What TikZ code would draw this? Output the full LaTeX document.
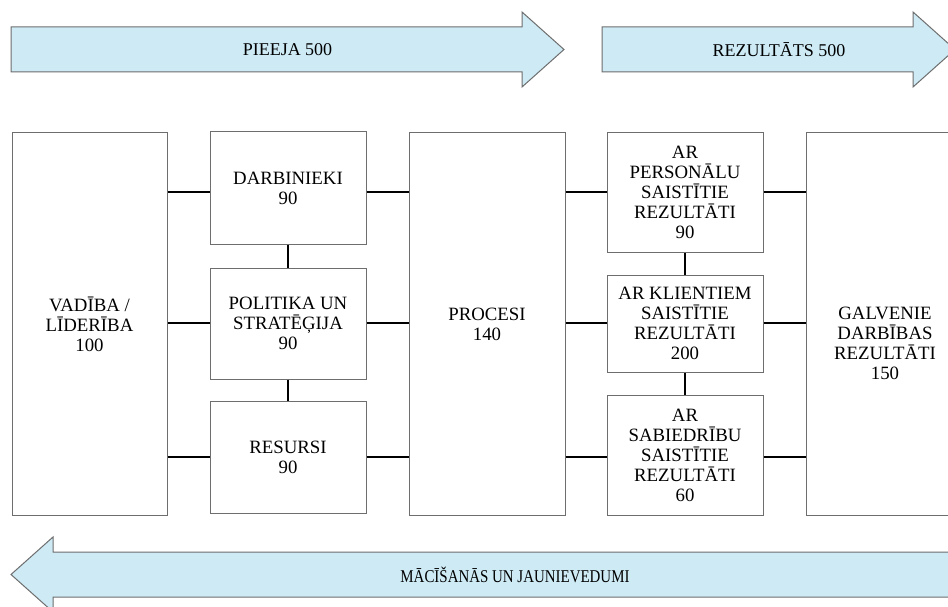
\documentclass[tikz,border=0pt]{standalone}
\usepackage{fontspec}
\setmainfont{Liberation Serif}
\usepackage{graphicx}
\definecolor{flowblue}{RGB}{205,234,245}
\definecolor{edgegray}{RGB}{110,110,110}
\begin{document}
\begin{tikzpicture}[x=1pt,y=-1pt,
  box/.style={draw=edgegray,line width=1pt,fill=white,inner sep=0pt,
              align=center,font=\fontsize{18.8}{20}\selectfont},
  boxtext/.style={inner sep=0pt,align=center,font=\fontsize{18.8}{20}\selectfont},
  flow/.style={draw=edgegray,line width=1pt,fill=flowblue,line join=miter},
  flowtext/.style={inner sep=0pt,font=\fontsize{18}{20}\selectfont},
  link/.style={draw=black,line width=2pt}]
\useasboundingbox (0,0) rectangle (948,607);
\begin{scope}
\clip (0,0) rectangle (948,607);
\fill[white] (0,0) rectangle (948,607);

% flow arrows
\draw[flow] (11,27) -- (522,27) -- (522,12) -- (564,49.5) -- (522,87) -- (522,72) -- (11,72) -- cycle;
\node[flowtext] (pieeja) at (287.5,49.5) {PIEEJA 500};
\draw[flow] (602,27) -- (913,27) -- (913,12) -- (955,49.5) -- (913,87) -- (913,72) -- (602,72) -- cycle;
\node[flowtext] (rez) at (779,49.5) {REZULTĀTS 500};
\draw[flow] (1019,552) -- (53,552) -- (53,537) -- (11,574.5) -- (53,612) -- (53,597) -- (1019,597) -- cycle;
\node[flowtext] (macis) at (515,574.5) {\scalebox{0.83}[1]{MĀCĪŠANĀS UN JAUNIEVEDUMI}};

% enablers
\node[box,minimum width=155pt,minimum height=382pt] (vad) at (89.5,324) {VADĪBA /\\LĪDERĪBA\\100};
\node[box,minimum width=156pt,minimum height=112pt] (darb) at (288,188) {DARBINIEKI\\90};
\node[box,minimum width=156pt,minimum height=111pt] (pol) at (288,323.5) {POLITIKA UN\\STRATĒĢIJA\\90};
\node[box,minimum width=156pt,minimum height=112pt] (res) at (288,457) {RESURSI\\90};
\node[box,minimum width=156pt,minimum height=382pt] (proc) at (487,324) {PROCESI\\140};

% results
\node[box,minimum width=156pt,minimum height=119pt] (pers) at (685,192.5) {AR\\PERSONĀLU\\SAISTĪTIE\\REZULTĀTI\\90};
\node[box,minimum width=156pt,minimum height=97pt] (klien) at (685,323.5) {AR KLIENTIEM\\SAISTĪTIE\\REZULTĀTI\\200};
\node[box,minimum width=156pt,minimum height=120pt] (sab) at (685,455) {AR\\SABIEDRĪBU\\SAISTĪTIE\\REZULTĀTI\\60};
\node[box,minimum width=158pt,minimum height=382pt] (galv) at (885,324) {};
\node[boxtext] (galvtxt) at (885,343) {GALVENIE\\DARBĪBAS\\REZULTĀTI\\150};

% connector rows
\coordinate (ya) at (0,192);
\coordinate (yb) at (0,323);
\coordinate (yc) at (0,457);

\draw[link] (vad.east |- ya) -- (darb.west |- ya);
\draw[link] (vad.east |- yb) -- (pol.west |- yb);
\draw[link] (vad.east |- yc) -- (res.west |- yc);
\draw[link] (darb.east |- ya) -- (proc.west |- ya);
\draw[link] (pol.east |- yb) -- (proc.west |- yb);
\draw[link] (res.east |- yc) -- (proc.west |- yc);
\draw[link] (proc.east |- ya) -- (pers.west |- ya);
\draw[link] (proc.east |- yb) -- (klien.west |- yb);
\draw[link] (proc.east |- yc) -- (sab.west |- yc);
\draw[link] (pers.east |- ya) -- (galv.west |- ya);
\draw[link] (klien.east |- yb) -- (galv.west |- yb);
\draw[link] (sab.east |- yc) -- (galv.west |- yc);

\draw[link] (darb.south) -- (pol.north);
\draw[link] (pol.south) -- (res.north);
\draw[link] (pers.south) -- (klien.north);
\draw[link] (klien.south) -- (sab.north);
\end{scope}
\end{tikzpicture}
\end{document}
